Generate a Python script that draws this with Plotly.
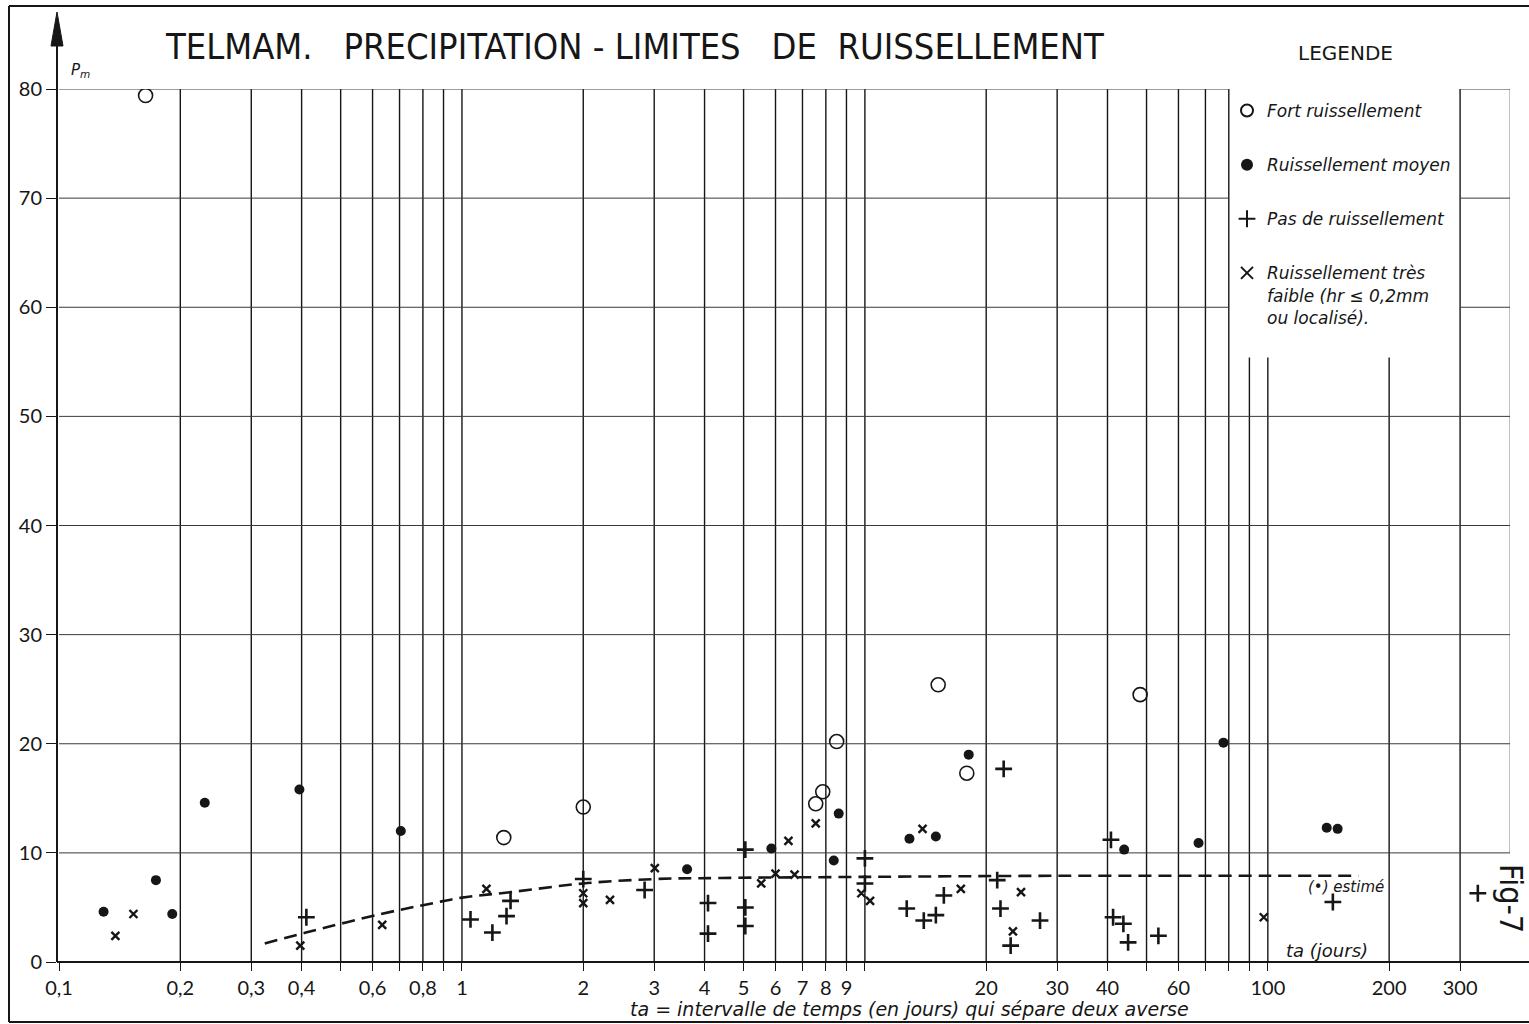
import math
import plotly.graph_objects as go

# --- observations: ta (days between two storms) vs Pm (mm) ---
fort_ta = [0.164, 1.27, 2.0, 7.55, 7.86, 8.51, 15.2, 17.9, 48.2]
fort_pm = [79.4, 11.4, 14.2, 14.5, 15.6, 20.2, 25.4, 17.3, 24.5]

moyen_ta = [0.129, 0.174, 0.191, 0.230, 0.395, 0.705, 3.62, 5.86, 8.61, 8.37,
            12.9, 15.0, 18.1, 44.0, 67.3, 77.6, 140, 149]
moyen_pm = [4.6, 7.5, 4.4, 14.6, 15.8, 12.0, 8.5, 10.4, 13.6, 9.3,
            11.3, 11.5, 19.0, 10.3, 10.9, 20.1, 12.3, 12.2]

pas_ta = [0.411, 1.05, 1.19, 1.29, 1.32, 2.0, 2.84, 4.08, 4.08, 5.05, 5.05, 5.05,
          10.0, 10.0, 12.7, 14.0, 15.0, 15.7, 22.1, 21.3, 21.7, 23.0, 27.2,
          40.8, 41.3, 43.8, 45.0, 53.5, 145, 332]
pas_pm = [4.1, 3.9, 2.7, 4.2, 5.6, 7.6, 6.6, 5.4, 2.6, 10.3, 5.0, 3.3,
          9.5, 7.2, 4.9, 3.8, 4.3, 6.1, 17.7, 7.5, 4.9, 1.5, 3.8,
          11.2, 4.1, 3.5, 1.8, 2.4, 5.5, 6.3]

faible_ta = [0.138, 0.153, 0.397, 0.634, 1.15, 2.0, 2.0, 2.33, 3.01, 5.53, 6.0,
             6.46, 6.69, 7.55, 9.8, 10.3, 13.9, 17.3, 24.4, 23.3, 97.7]
faible_pm = [2.4, 4.4, 1.5, 3.4, 6.7, 6.3, 5.4, 5.7, 8.6, 7.2, 8.1,
             11.1, 8.0, 12.7, 6.3, 5.6, 12.2, 6.7, 6.4, 2.8, 4.1]

# runoff threshold curve
limite_ta = [0.324, 0.41, 0.63, 0.85, 1.0, 1.32, 2.0, 3.0, 4.4, 10, 30, 100, 168]
limite_pm = [1.7, 2.7, 4.4, 5.4, 5.9, 6.4, 7.2, 7.6, 7.7, 7.8, 7.9, 7.9, 7.9]

# --- log grid of the abaque ---
grid_full = [0.2, 0.3, 0.4, 0.5, 0.6, 0.7, 0.8, 0.9, 1, 2, 3, 4, 5, 6, 7, 8, 9,
             10, 20, 30, 40, 50, 60, 70, 80, 300]
grid_short = [90, 100, 200]          # interrupted under the legend box
grid_short_top = 55.4
right_edge = 400
h_full = [10, 20, 30, 40, 50]
h_split = [60, 70, 80]               # interrupted by the legend box
legend_left, legend_right = 80, 300

x_ticks = [0.1, 0.2, 0.3, 0.4, 0.5, 0.6, 0.7, 0.8, 0.9, 1, 2, 3, 4, 5, 6, 7, 8, 9,
           10, 20, 30, 40, 50, 60, 70, 80, 90, 100, 200, 300, 400]
x_labels = {0.1: "0,1", 0.2: "0,2", 0.3: "0,3", 0.4: "0,4", 0.6: "0,6", 0.8: "0,8",
            1: "1", 2: "2", 3: "3", 4: "4", 5: "5", 6: "6", 7: "7", 8: "8", 9: "9",
            20: "20", 30: "30", 40: "40", 60: "60", 100: "100", 200: "200", 300: "300"}
y_ticks = [0, 10, 20, 30, 40, 50, 60, 70, 80]

INK = "#161616"
TXT = "Lato, 'DejaVu Sans', sans-serif"
ITXT = "'DejaVu Sans', Lato, sans-serif"
NARROW = "'Liberation Sans Narrow', 'DejaVu Sans Condensed', 'Roboto Condensed', 'DejaVu Sans'"

fig = go.Figure()


def segs(pairs):
    xs, ys = [], []
    for (xa, ya), (xb, yb) in pairs:
        xs += [xa, xb, None]
        ys += [ya, yb, None]
    return xs, ys


# vertical grid
vx, vy = segs([((v, 0), (v, 80)) for v in grid_full]
              + [((v, 0), (v, grid_short_top)) for v in grid_short]
              + [((right_edge, 10), (right_edge, 80))])
fig.add_trace(go.Scatter(x=vx, y=vy, mode="lines", line=dict(color=INK, width=1.4),
                         hoverinfo="skip", showlegend=False))
# horizontal grid
hx, hy = segs([((0.1, h), (right_edge, h)) for h in h_full]
              + [((0.1, h), (legend_left, h)) for h in h_split]
              + [((legend_right, h), (right_edge, h)) for h in h_split])
fig.add_trace(go.Scatter(x=hx, y=hy, mode="lines", line=dict(color="#3a3a3a", width=1),
                         hoverinfo="skip", showlegend=False))

# threshold curve
fig.add_trace(go.Scatter(x=limite_ta, y=limite_pm, mode="lines", line_shape="spline",
                         line=dict(color=INK, width=2.6, dash="13px,7px"),
                         hoverinfo="skip", showlegend=False))

# observation series
fig.add_trace(go.Scatter(x=fort_ta, y=fort_pm, mode="markers", name="Fort ruissellement",
                         legendgroup="a",
                         marker=dict(symbol="circle-open", size=14, color=INK,
                                     line=dict(width=1.6, color=INK))))
fig.add_trace(go.Scatter(x=moyen_ta, y=moyen_pm, mode="markers", name="Ruissellement moyen",
                         legendgroup="b",
                         marker=dict(symbol="circle", size=10, color=INK)))
fig.add_trace(go.Scatter(x=pas_ta, y=pas_pm, mode="markers", name="Pas de ruissellement",
                         legendgroup="c",
                         marker=dict(symbol="cross-thin", size=12, color=INK,
                                     line=dict(width=2.6, color=INK))))
fig.add_trace(go.Scatter(x=faible_ta, y=faible_pm, mode="markers",
                         name="Ruissellement très<br>faible (hr ≤ 0,2mm<br>ou localisé).",
                         legendgroup="d",
                         marker=dict(symbol="x-thin", size=8, color=INK,
                                     line=dict(width=2.4, color=INK))))

W, H = 1529, 1024
L, R, T, B = 57, 19, 89, 62
PW, PH = W - L - R, H - T - B


def px(X):
    return (X - L) / PW


def py(Y):
    return (H - B - Y) / PH


shapes = [
    # x axis line running to the sheet edge
    dict(type="line", xref="paper", yref="paper", x0=0, x1=px(1529), y0=0, y1=0,
         line=dict(color=INK, width=2)),
    # y axis with arrow
    dict(type="line", xref="paper", yref="paper", x0=0, x1=0, y0=0, y1=py(30),
         line=dict(color=INK, width=2)),
    dict(type="path", xref="paper", yref="paper",
         path=f"M {px(51)},{py(46)} L {px(57)},{py(12)} L {px(63)},{py(46)} Z",
         fillcolor=INK, line=dict(color=INK, width=1)),
    # sheet frame
    dict(type="line", xref="paper", yref="paper", x0=px(9), x1=px(1529), y0=py(6), y1=py(6),
         line=dict(color=INK, width=2)),
    dict(type="line", xref="paper", yref="paper", x0=px(9), x1=px(9), y0=py(6), y1=py(1022),
         line=dict(color=INK, width=2)),
    dict(type="line", xref="paper", yref="paper", x0=px(9), x1=px(1529), y0=py(1022), y1=py(1022),
         line=dict(color=INK, width=2)),
]

it = dict(family=ITXT, size=15, color=INK, style="italic")


def note(text, X, Y, font, xanchor="center", **kw):
    return dict(text=text, x=px(X), y=py(Y), xref="paper", yref="paper",
                xanchor=xanchor, yanchor="middle", showarrow=False, font=font, **kw)


annotations = [
    note("TELMAM.\u00a0\u00a0 PRECIPITATION - LIMITES\u00a0\u00a0 DE\u00a0 RUISSELLEMENT",
         163, 47, dict(family=NARROW, size=36, color=INK), xanchor="left"),
    note("LEGENDE", 1345, 53, dict(family=ITXT, size=20, color=INK)),
    note("P<sub>m</sub>", 80, 70, dict(family=ITXT, size=15, color=INK, style="italic")),
    note("ta = intervalle de temps (en jours) qui sépare deux averse", 909, 1009,
         dict(it, size=19)),
    note("ta (jours)", 1327, 950, dict(it, size=18)),
    note("(•) estimé", 1346, 887, it),
    note("Fig-7", 1511, 898, dict(family=NARROW, size=32, color=INK), textangle=90),
]

fig.update_layout(
    width=W, height=H,
    margin=dict(l=L, r=R, t=T, b=B),
    paper_bgcolor="white", plot_bgcolor="white",
    showlegend=True,
    legend=dict(x=px(1227), y=py(93), xanchor="left", yanchor="top", valign="top",
                font=dict(family=ITXT, size=17, color=INK, style="italic"),
                bgcolor="rgba(0,0,0,0)", tracegroupgap=29, itemsizing="constant"),
    shapes=shapes,
    annotations=annotations,
    xaxis=dict(type="log", range=[-1.005, math.log10(399)],
               tickvals=x_ticks, ticktext=[x_labels.get(v, "") for v in x_ticks],
               ticks="outside", ticklen=8, tickwidth=1.4, tickcolor=INK,
               tickfont=dict(family=TXT, size=20, color=INK),
               showgrid=False, zeroline=False, showline=False),
    yaxis=dict(range=[0, 80], tickvals=y_ticks, ticktext=[str(v) for v in y_ticks],
               ticks="outside", ticklen=10, tickwidth=1.4, tickcolor=INK,
               tickfont=dict(family=TXT, size=20, color=INK),
               showgrid=False, zeroline=False, showline=False),
)

fig.write_html("out.html")
